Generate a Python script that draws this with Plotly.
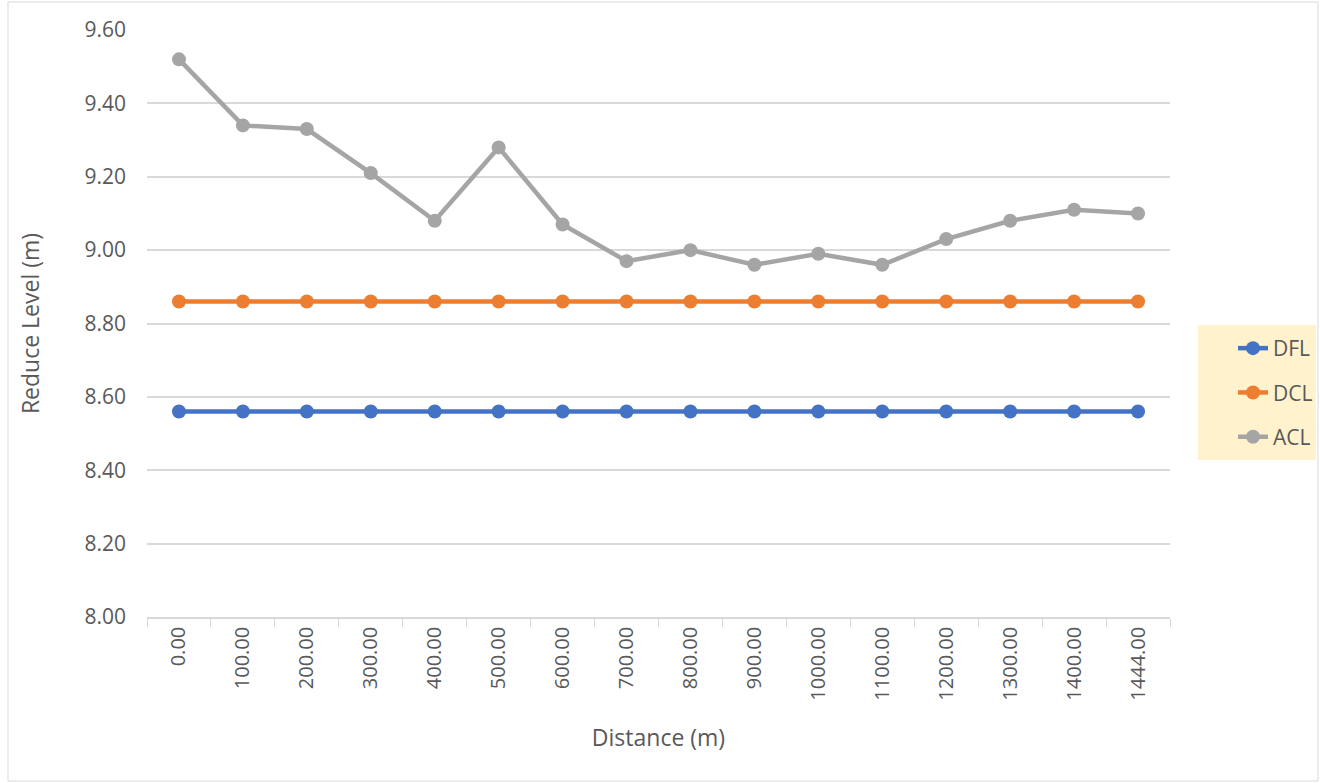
import plotly.graph_objects as go

distance = ["0.00", "100.00", "200.00", "300.00", "400.00", "500.00", "600.00", "700.00",
            "800.00", "900.00", "1000.00", "1100.00", "1200.00", "1300.00", "1400.00", "1444.00"]
dfl = [8.56] * 16
dcl = [8.86] * 16
acl = [9.52, 9.34, 9.33, 9.21, 9.08, 9.28, 9.07, 8.97, 9.00, 8.96, 8.99, 8.96, 9.03, 9.08, 9.11, 9.10]

series = [("DFL", dfl, "#4472C4"), ("DCL", dcl, "#ED7D31"), ("ACL", acl, "#A5A5A5")]

fig = go.Figure()
for name, vals, col in series:
    fig.add_trace(go.Scatter(x=distance, y=vals, name=name, legendgroup=name, mode="lines+markers",
                             line=dict(color=col, width=4.5),
                             marker=dict(color=col, size=14)))

font_family = "Open Sans, Liberation Sans, Arial, sans-serif"
W, H = 1320, 783
L, R, T, B = 147, 150, 30, 166
pw, ph = W - L - R, H - T - B

def px_x(p):
    return (p - L) / pw

def px_y(p):
    return (H - B - p) / ph

fig.update_layout(
    width=W, height=H,
    margin=dict(l=L, r=R, t=T, b=B, autoexpand=False),
    paper_bgcolor="white", plot_bgcolor="white",
    font=dict(family=font_family, color="#595959", size=20),
    showlegend=True,
    legend=dict(x=px_x(1233), y=px_y(328), xanchor="left", yanchor="top",
                bgcolor="rgba(0,0,0,0)", borderwidth=0,
                font=dict(size=21, color="#595959"),
                tracegroupgap=14, itemwidth=30),
    xaxis=dict(type="category", showgrid=False, showline=True, linecolor="#D9D9D9", linewidth=1.5,
               ticks="outside", tickson="boundaries", ticklen=8, tickcolor="#D9D9D9",
               tickangle=-90, tickfont=dict(size=20, color="#595959"),
               title=dict(text="Distance (m)", font=dict(size=23, color="#595959"), standoff=30),
               range=[-0.5, 15.5], fixedrange=True),
    yaxis=dict(range=[8.0, 9.6], dtick=0.2, tickformat=".2f", showgrid=True, gridcolor="#D9D9D9",
               gridwidth=1.5, zeroline=False, showline=False, ticklabelstandoff=20,
               tickfont=dict(size=21, color="#595959"),
               title=dict(text="Reduce Level (m)", font=dict(size=23, color="#595959"), standoff=38),
               fixedrange=True),
)

# chart outer border and legend background
fig.add_shape(type="rect", xref="paper", yref="paper",
              x0=px_x(8), x1=px_x(1318), y0=px_y(781), y1=px_y(2),
              line=dict(color="#D9D9D9", width=1), fillcolor="rgba(0,0,0,0)", layer="below")
fig.add_shape(type="rect", xref="paper", yref="paper",
              x0=px_x(1198), x1=px_x(1316), y0=px_y(460), y1=px_y(325),
              line=dict(width=0), fillcolor="#FFF2CC", layer="below")

fig.write_html("out.html", config={"displayModeBar": False},
               post_script="document.body.style.margin='0px';document.body.style.overflow='hidden';")
